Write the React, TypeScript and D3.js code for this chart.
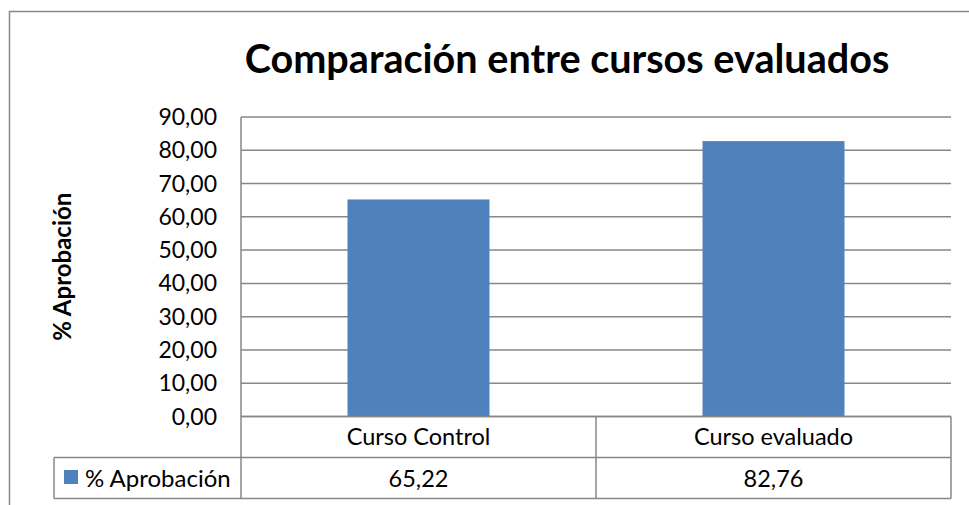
import * as d3 from 'd3';

// data
const categories = ['Curso Control', 'Curso evaluado'];
const values = [65.22, 82.76];
const seriesName = '% Aprobación';
const yTicks = [0, 10, 20, 30, 40, 50, 60, 70, 80, 90];

const W = 969;
const H = 505;
const font = 'Lato, "Open Sans", sans-serif';
const grid = '#878787';
const barColor = '#4f81bd';

const fmt = (v: number) => v.toFixed(2).replace('.', ',');

export default function App() {
  // plot area
  const left = 241;
  const right = 951;
  const top = 117;
  const bottom = 416.5;
  const rowH = 41;
  const legendLeft = 54;

  const y = d3.scaleLinear().domain([0, 90]).range([bottom, top]);
  const x = d3
    .scaleBand()
    .domain(categories)
    .range([left, right])
    .paddingInner(0.6)
    .paddingOuter(0.3);
  // full cells for the table under the axis
  const cell = d3.scaleBand().domain(categories).range([left, right]);

  const row1 = bottom + rowH;
  const row2 = row1 + rowH;

  return (
    <svg
      width={W}
      height={H}
      style={{ position: 'absolute', left: 0, top: 0, background: '#fff' }}
    >
      {/* outer chart border, runs off right/bottom */}
      <rect x={9.5} y={11.5} width={1000} height={600} fill='#fff' stroke='#878787' strokeWidth={1.5} />

      <text
        x={567}
        y={73}
        textAnchor='middle'
        fontFamily={font}
        fontWeight={700}
        fontSize={39.6}
      >
        Comparación entre cursos evaluados
      </text>

      {/* gridlines */}
      {yTicks.map((t) => (
        <line key={t} x1={left} x2={right} y1={y(t)} y2={y(t)} stroke={grid} strokeWidth={1.5} />
      ))}

      {/* y tick labels */}
      {yTicks.map((t) => (
        <text
          key={'l' + t}
          x={217}
          y={y(t) + 8}
          textAnchor='end'
          fontFamily={font}
          fontSize={23}
          fill='#000'
        >
          {fmt(t)}
        </text>
      ))}

      {/* y axis title */}
      <text
        transform={`translate(71, ${(top + bottom) / 2}) rotate(-90)`}
        textAnchor='middle'
        fontFamily={font}
        fontWeight={700}
        fontSize={24}
      >
        {seriesName}
      </text>

      {/* bars */}
      {categories.map((c, i) => (
        <rect
          key={c}
          x={x(c)}
          y={y(values[i])}
          width={x.bandwidth()}
          height={bottom - y(values[i])}
          fill={barColor}
        />
      ))}

      {/* axis line + data table */}
      <g stroke={grid} strokeWidth={1.5} fill='none'>
        <line x1={left} x2={left} y1={top} y2={row2} />
        <line x1={left} x2={right} y1={bottom} y2={bottom} />
        <line x1={legendLeft} x2={right} y1={row1} y2={row1} />
        <line x1={legendLeft} x2={right} y1={row2} y2={row2} />
        <line x1={legendLeft} x2={legendLeft} y1={row1} y2={row2} />
        {categories.map((c) => (
          <line
            key={c}
            x1={(cell(c) as number) + cell.bandwidth()}
            x2={(cell(c) as number) + cell.bandwidth()}
            y1={bottom}
            y2={row2}
          />
        ))}
      </g>

      {categories.map((c, i) => (
        <g key={'t' + c} fontFamily={font} fontSize={23.5} textAnchor='middle'>
          <text x={(cell(c) as number) + cell.bandwidth() / 2} y={bottom + 28.5}>
            {c}
          </text>
          <text x={(cell(c) as number) + cell.bandwidth() / 2} y={row1 + 29.5}>
            {fmt(values[i])}
          </text>
        </g>
      ))}

      {/* legend key in table */}
      <rect x={64} y={470} width={14} height={14} fill={barColor} />
      <text x={85} y={row1 + 29.5} fontFamily={font} fontSize={24}>
        {seriesName}
      </text>
    </svg>
  );
}
